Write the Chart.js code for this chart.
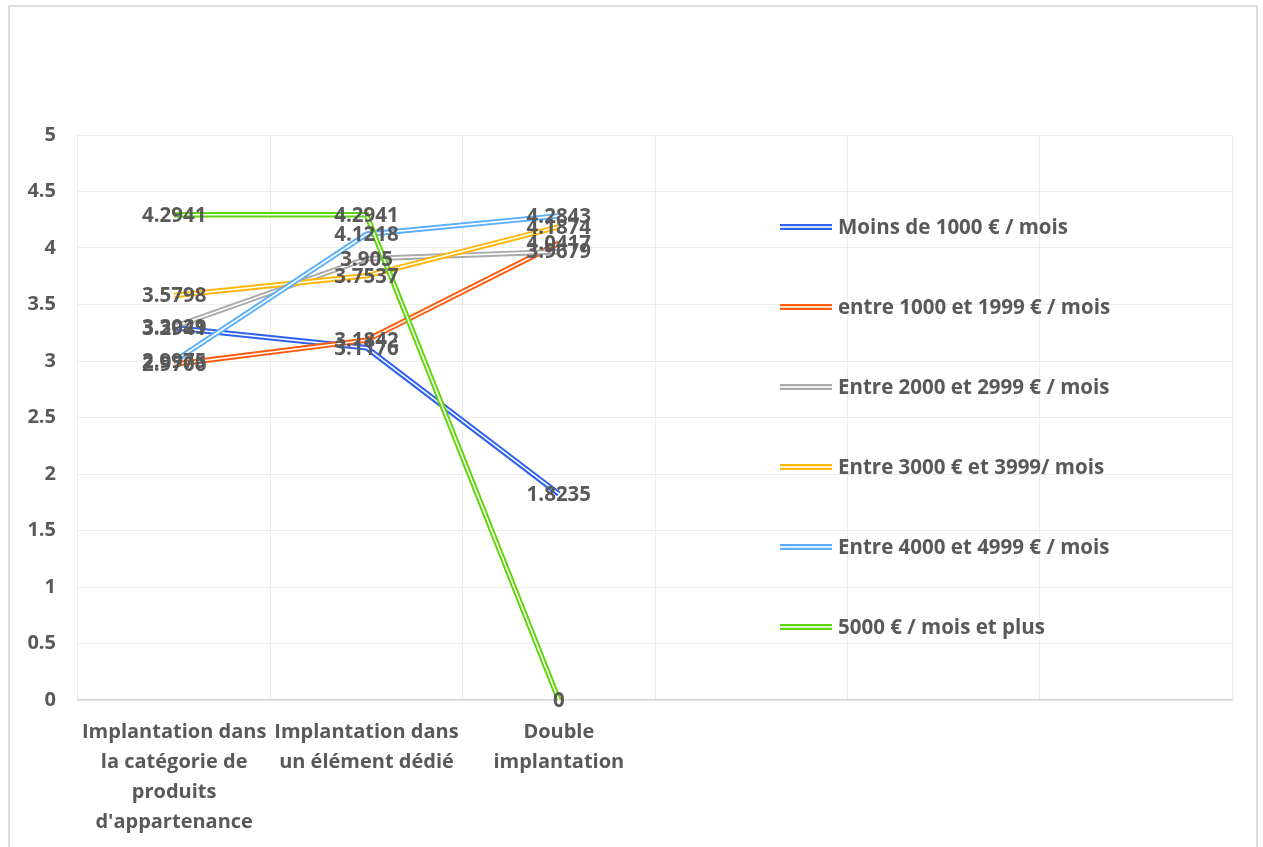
<!DOCTYPE html>
<html>
<head>
<meta charset="utf-8">
<script src="https://cdn.jsdelivr.net/npm/chart.js@4"></script>
<style>
  body { margin: 0; background: #fff; }
  #wrap { position: relative; width: 1263px; height: 847px; }
  #frame { position: absolute; left: 8px; top: 5px; width: 1250px; height: 850px;
           border: 2px solid #dcdcdc; box-sizing: border-box; pointer-events: none; }
</style>
</head>
<body>
<div id="wrap">
  <canvas id="chart-lines" width="1263" height="847"></canvas>
  <div id="frame"></div>
</div>
<script>
// categories (only the first three are filled, the axis keeps 6 slots)
const categories = [
  ["Implantation dans", "la catégorie de", "produits", "d'appartenance"],
  ["Implantation dans", "un élément dédié"],
  ["Double", "implantation"],
  "", "", ""
];
const seriesNames = [
  "Moins de 1000 € / mois",
  "entre 1000 et 1999 € / mois",
  "Entre 2000 et 2999 € / mois",
  "Entre 3000 € et 3999/ mois",
  "Entre 4000 et 4999 € / mois",
  "5000 € / mois et plus"
];
const moins1000 = [3.2941, 3.1176, 1.8235];
const entre1000 = [2.9706, 3.1842, 4.0417];
const entre2000 = [3.3029, 3.905, 3.9679];
const entre3000 = [3.5798, 3.7537, 4.1874];
const entre4000 = [2.9975, 4.1218, 4.2843];
const plus5000 = [4.2941, 4.2941, 0];
const yTicks = [0, 0.5, 1, 1.5, 2, 2.5, 3, 3.5, 4, 4.5, 5];

const seriesValues = [moins1000, entre1000, entre2000, entre3000, entre4000, plus5000];
const colors = ["#2f62f0", "#ff5b0a", "#a9a9a9", "#ffb80a", "#5aaefc", "#5fd60a"];

const FONT = "'Open Sans'";
const SIZE = 20;
const TEXT = "#595959";

// excel-ish "double" line : redraw a thin white line in the middle
const doubleLine = {
  id: "doubleLine",
  afterDatasetDraw(chart, args) {
    const line = args.meta.dataset;
    const o = line.options;
    const bc = o.borderColor, bw = o.borderWidth;
    o.borderColor = "#ffffff";
    o.borderWidth = 1.6;
    line.draw(chart.ctx, chart.chartArea);
    o.borderColor = bc;
    o.borderWidth = bw;
  }
};

// value labels centered on each point
const valueLabels = {
  id: "valueLabels",
  afterDatasetsDraw(chart) {
    const ctx = chart.ctx;
    ctx.save();
    ctx.font = "bold 20.5px " + FONT;
    ctx.fillStyle = TEXT;
    ctx.textAlign = "center";
    ctx.textBaseline = "middle";
    chart.data.datasets.forEach((ds, i) => {
      const meta = chart.getDatasetMeta(i);
      meta.data.forEach((pt, j) => {
        ctx.fillText(String(ds.data[j]), pt.x, pt.y + 1);
      });
    });
    ctx.restore();
  }
};

// legend drawn inside the plot area, on the right
const insideLegend = {
  id: "insideLegend",
  afterDraw(chart) {
    const ctx = chart.ctx;
    const x0 = 780, y0 = 227, step = 80;
    ctx.save();
    ctx.font = "bold 20.5px " + FONT;
    ctx.textBaseline = "middle";
    ctx.textAlign = "left";
    chart.data.datasets.forEach((ds, i) => {
      const y = y0 + i * step;
      ctx.fillStyle = ds.borderColor;
      ctx.fillRect(x0, y - 3, 52, 6);
      ctx.fillStyle = "#ffffff";
      ctx.fillRect(x0, y - 0.8, 52, 1.6);
      ctx.fillStyle = TEXT;
      ctx.fillText(ds.label, x0 + 58, y + 1);
    });
    ctx.restore();
  }
};

const datasets = seriesNames.map((name, i) => ({
  label: name,
  data: seriesValues[i],
  borderColor: colors[i],
  backgroundColor: colors[i],
  borderWidth: 5.5,
  pointRadius: 0,
  tension: 0,
  fill: false,
  order: seriesNames.length - i
}));

new Chart(document.getElementById("chart-lines").getContext("2d"), {
  type: "line",
  data: { labels: categories, datasets: datasets },
  plugins: [doubleLine, valueLabels, insideLegend],
  options: {
    responsive: false,
    animation: false,
    layout: { padding: { top: 135, right: 31, left: 8, bottom: 0 } },
    plugins: {
      legend: { display: false },
      tooltip: { enabled: false }
    },
    scales: {
      y: {
        min: 0,
        max: 5,
        afterFit(scale) { scale.width = 70; },
        afterBuildTicks(scale) { scale.ticks = yTicks.map(v => ({ value: v })); },
        grid: { color: "#ececec", drawTicks: false },
        border: { display: false },
        ticks: {
          padding: 22,
          color: TEXT,
          callback: v => String(v),
          font: { size: SIZE, family: FONT, weight: "bold" }
        }
      },
      x: {
        offset: true,
        afterFit(scale) { scale.height = 147; },
        grid: { color: "#ececec", offset: true, drawTicks: false },
        border: { display: true, color: "#d6d6d6", width: 1.5 },
        ticks: {
          autoSkip: false,
          maxRotation: 0,
          padding: 17,
          color: TEXT,
          font: { size: SIZE, family: FONT, weight: "bold", lineHeight: 1.5 }
        }
      }
    }
  }
});
</script>
</body>
</html>
